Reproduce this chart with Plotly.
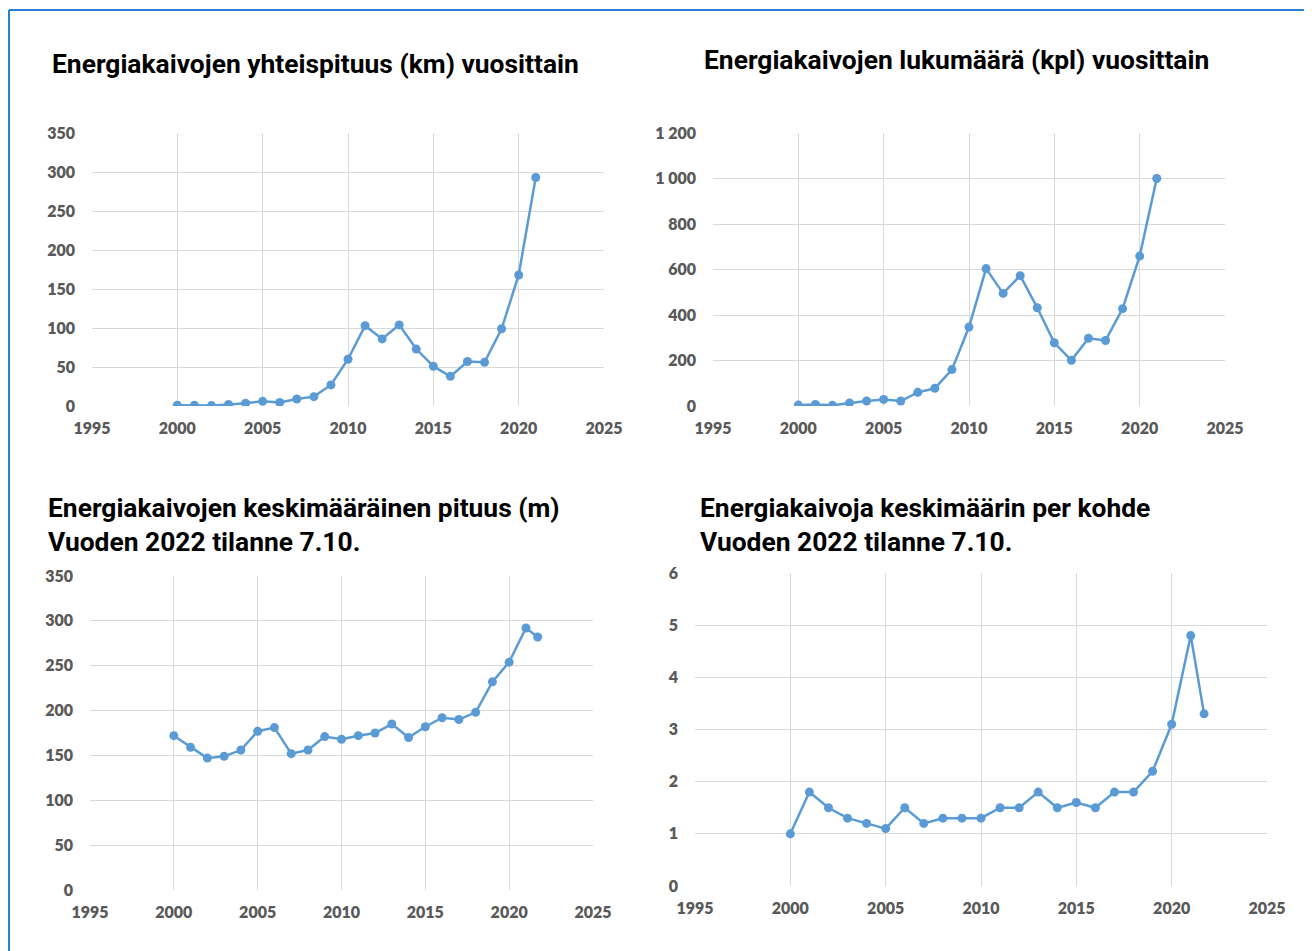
import plotly.graph_objects as go

# --- data ---
years = list(range(2000, 2022))
years_partial = years + [2021.7]  # 2022 tilanne 7.10.

length_km = [1, 1, 0.5, 2, 3.5, 6, 4.5, 9, 12, 27, 60, 103, 86, 104, 73, 51, 38, 57, 56, 99, 168, 293]
count_pcs = [4, 7, 3, 13, 22, 29, 22, 60, 78, 160, 347, 604, 495, 573, 432, 278, 201, 298, 288, 428, 659, 1000]
avg_length_m = [172, 159, 147, 149, 156, 177, 181, 152, 156, 171, 168, 172, 175, 185, 170, 182, 192, 190, 198,
                232, 254, 292, 282]
wells_per_site = [1.0, 1.8, 1.5, 1.3, 1.2, 1.1, 1.5, 1.2, 1.3, 1.3, 1.3, 1.5, 1.5, 1.8, 1.5, 1.6, 1.5, 1.8, 1.8,
                  2.2, 3.1, 4.8, 3.3]

titles = [
    "Energiakaivojen yhteispituus (km) vuosittain",
    "Energiakaivojen lukumäärä (kpl) vuosittain",
    "Energiakaivojen keskimääräinen pituus (m)<br>Vuoden 2022 tilanne 7.10.",
    "Energiakaivoja keskimäärin per kohde<br>Vuoden 2022 tilanne 7.10.",
]

# the page body adds an 8 px margin, so the figure is 8 px smaller and
# all page-pixel positions below are shifted by OFF
OFF = 8
W, H = 1312 - OFF, 951 - OFF
BLUE = "#5B9BD5"
GRID = "#d9d9d9"
TICK = "#595959"


def fx(p):
    return (p - OFF) / W


def fy(p):
    return 1 - (p - OFF) / H


# page-pixel boxes of plot areas: (left, right, top, bottom)
boxes = [
    (92, 604, 133, 406),
    (713, 1225, 133, 406),
    (90, 593, 576, 890),
    (695, 1267, 573, 886),
]
series = [
    (years, length_km, [0, 350], 50),
    (years, count_pcs, [0, 1200], 200),
    (years_partial, avg_length_m, [0, 350], 50),
    (years_partial, wells_per_site, [0, 6], 1),
]
title_pos = [(50, 64), (702, 60), (46, 525), (698, 525)]

fig = go.Figure()
tickfont = dict(family="Lato", size=16, color=TICK, weight=800)

for i, ((xs, ys, yr, dy), (l, r, t, b)) in enumerate(zip(series, boxes)):
    n = "" if i == 0 else str(i + 1)
    fig.add_trace(
        go.Scatter(
            x=xs,
            y=ys,
            mode="lines+markers",
            line=dict(color=BLUE, width=2.5),
            marker=dict(color=BLUE, size=9),
            xaxis="x" + n,
            yaxis="y" + n,
            showlegend=False,
        )
    )
    fig.update_layout(
        {
            "xaxis" + n: dict(
                domain=[fx(l), fx(r)],
                anchor="y" + n,
                range=[1995, 2025],
                dtick=5,
                tick0=1995,
                showgrid=True,
                gridcolor=GRID,
                gridwidth=1,
                showline=False,
                zeroline=False,
                tickfont=tickfont,
                ticklabelstandoff=11,
                automargin=False,
                fixedrange=True,
            ),
            "yaxis" + n: dict(
                domain=[fy(b), fy(t)],
                anchor="x" + n,
                range=yr,
                dtick=dy,
                showgrid=True,
                gridcolor=GRID,
                gridwidth=1,
                zeroline=False,
                showline=False,
                tickfont=tickfont,
                tickformat="," if i == 1 else "",
                ticklabelstandoff=16,
                automargin=False,
                fixedrange=True,
            ),
        }
    )
    tx, ty = title_pos[i]
    fig.add_annotation(
        x=fx(tx),
        y=fy(ty),
        xref="paper",
        yref="paper",
        xanchor="left",
        yanchor="middle",
        align="left",
        showarrow=False,
        text=titles[i],
        font=dict(family="Roboto", size=26.4, color="black", weight="bold"),
    )

# outer blue frame (left and top edges)
fig.add_shape(type="line", xref="paper", yref="paper", x0=1 / W, x1=1 / W, y0=0, y1=fy(10),
              line=dict(color="#2b7fd3", width=2))
fig.add_shape(type="line", xref="paper", yref="paper", x0=1 / W, x1=1, y0=fy(10), y1=fy(10),
              line=dict(color="#2b7fd3", width=2))

fig.update_layout(
    width=W,
    height=H,
    margin=dict(l=0, r=0, t=0, b=0, autoexpand=False),
    paper_bgcolor="white",
    plot_bgcolor="white",
    separators=". ",
)

fig.write_html("out.html")
